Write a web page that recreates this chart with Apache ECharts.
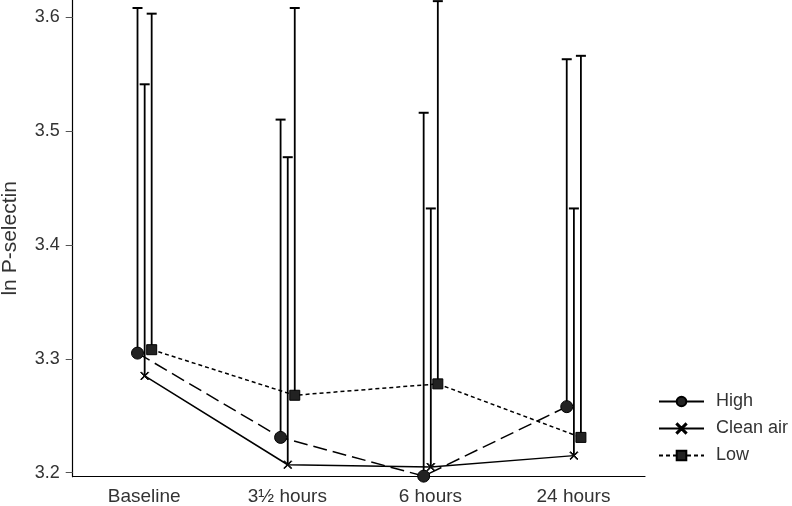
<!DOCTYPE html>
<html>
<head>
<meta charset="utf-8">
<script src="https://cdn.jsdelivr.net/npm/echarts@6/dist/echarts.min.js"></script>
<style>html,body{margin:0;padding:0;background:#fff}#c{width:792px;height:506px}</style>
</head>
<body>
<div id="c"></div>
<script>
var categories = ['Baseline', '3\u00bd hours', '6 hours', '24 hours'];
var seriesNames = ['High', 'Clean air', 'Low'];
var highMean = [3.305, 3.231, 3.197, 3.258];
var highUpper = [3.608, 3.510, 3.516, 3.563];
var cleanMean = [3.285, 3.207, 3.205, 3.215];
var cleanUpper = [3.541, 3.477, 3.432, 3.432];
var lowMean = [3.308, 3.268, 3.278, 3.231];
var lowUpper = [3.603, 3.608, 3.614, 3.566];
var yTicks = [3.2, 3.3, 3.4, 3.5, 3.6];

var offsets = [-0.047, 0.003, 0.052];
var TXT = '#333';
var FONT = 'Liberation Sans, Arial, sans-serif';

function pts(mean, off) {
  return mean.map(function (v, i) { return [i + off, v]; });
}
function errData(mean, upper, off) {
  return mean.map(function (v, i) { return [i + off, v, upper[i]]; });
}
function errRender(params, api) {
  var x = api.value(0);
  var p0 = api.coord([x, api.value(1)]);
  var p1 = api.coord([x, api.value(2)]);
  var cap = 5;
  return {
    type: 'group',
    children: [
      { type: 'line', shape: { x1: p0[0], y1: p0[1], x2: p1[0], y2: p1[1] }, style: { stroke: '#000', lineWidth: 1.8 } },
      { type: 'line', shape: { x1: p1[0] - cap, y1: p1[1], x2: p1[0] + cap, y2: p1[1] }, style: { stroke: '#000', lineWidth: 2 } }
    ]
  };
}
var xSym = 'path://M0,0.8L0.8,0L5,4.2L9.2,0L10,0.8L5.8,5L10,9.2L9.2,10L5,5.8L0.8,10L0,9.2L4.2,5Z';

var means = [highMean, cleanMean, lowMean];
var uppers = [highUpper, cleanUpper, lowUpper];
var symbols = ['circle', xSym, 'rect'];
var symSizes = [12, 8, 10];
var dashes = [[14, 6], 'solid', [4, 3]];

var series = [];
for (var s = 0; s < 3; s++) {
  series.push({
    name: seriesNames[s] + '_err',
    type: 'custom',
    xAxisIndex: 1,
    renderItem: errRender,
    data: errData(means[s], uppers[s], offsets[s]),
    clip: false,
    z: 1,
    silent: true
  });
}
for (var s2 = 0; s2 < 3; s2++) {
  series.push({
    name: seriesNames[s2],
    type: 'line',
    xAxisIndex: 1,
    data: pts(means[s2], offsets[s2]),
    symbol: symbols[s2],
    symbolSize: symSizes[s2],
    showAllSymbol: true,
    clip: false,
    z: 3,
    itemStyle: { color: '#222', borderColor: '#000', borderWidth: 1 },
    lineStyle: { color: '#000', width: 1.5, type: dashes[s2] },
    emphasis: { disabled: true },
    animation: false
  });
}

var chart = echarts.init(document.getElementById('c'));
chart.setOption({
  animation: false,
  backgroundColor: '#fff',
  textStyle: { fontFamily: FONT },
  grid: { left: 72.7, right: 147, top: 0, bottom: 29.3, containLabel: false, outerBoundsMode: 'none' },
  legend: {
    data: [
      { name: 'High', lineStyle: { type: 'solid' } },
      { name: 'Clean air' },
      { name: 'Low' }
    ],
    orient: 'vertical',
    left: 653,
    top: 387.5,
    itemWidth: 45,
    itemHeight: 12,
    itemGap: 9,
    textStyle: { fontSize: 18, color: TXT, fontFamily: FONT, padding: [0, 0, 0, 7] },
    selectedMode: false
  },
  xAxis: [
    {
      type: 'category',
      data: categories,
      boundaryGap: true,
      axisLine: { onZero: false, lineStyle: { color: '#000', width: 1.2 } },
      axisTick: { alignWithLabel: true, length: 5, lineStyle: { color: '#555' } },
      axisLabel: { fontSize: 19, color: TXT, margin: 11, fontFamily: FONT },
      splitLine: { show: false }
    },
    {
      type: 'value',
      min: -0.5,
      max: 3.5,
      show: false
    }
  ],
  yAxis: {
    type: 'value',
    min: 3.1965,
    max: 3.615,
    name: 'ln P-selectin',
    nameLocation: 'middle',
    nameGap: 52,
    nameTextStyle: { fontSize: 21, color: TXT, fontFamily: FONT },
    axisLine: { show: true, onZero: false, lineStyle: { color: '#000', width: 1.2 } },
    axisTick: { show: true, length: 7, customValues: yTicks, lineStyle: { color: '#555' } },
    axisLabel: { fontSize: 18, color: TXT, margin: 13, customValues: yTicks, fontFamily: FONT,
      formatter: function (v) { return v.toFixed(1); } },
    splitLine: { show: false }
  },
  series: series
});
</script>
</body>
</html>
